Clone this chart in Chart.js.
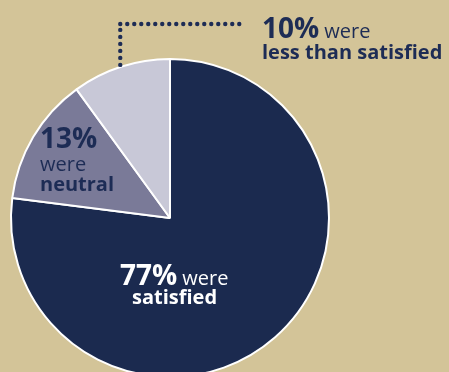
<!DOCTYPE html>
<html>
<head>
<meta charset="utf-8">
<script src="https://cdn.jsdelivr.net/npm/chart.js@4"></script>
<style>
  html, body { margin:0; padding:0; background:#d3c498; overflow:hidden; }
  #wrap { position:relative; width:449px; height:372px; overflow:hidden; }
  #pie { position:absolute; left:0; top:0; }
  .lbl { position:absolute; white-space:nowrap; line-height:1; font-family:"Open Sans", sans-serif; color:#1d2c55; }
  .lbl b { font-weight:700; }
  .lbl span { font-weight:400; }
  .lbl span.tail { font-size:20px; margin-left:5px; }
  .lbl.light { color:#ffffff; }
</style>
</head>
<body>
<div id="wrap">
  <canvas id="pie" width="449" height="380"></canvas>
</div>
<script>
'use strict';
const categories = ['satisfied', 'neutral', 'less than satisfied'];
const shares = [77, 13, 10];
const sliceColors = ['#1b2a4f', '#7a7a98', '#c8c8d7'];

// dotted leader from the middle of the last slice's rim up and across to its label
const leader = {
  id: 'leader',
  afterDatasetsDraw(chart) {
    const arc = chart.getDatasetMeta(0).data[2];
    const mid = (arc.startAngle + arc.endAngle) / 2;
    const x0 = arc.x + Math.cos(mid) * (arc.outerRadius + 2);
    const y0 = arc.y + Math.sin(mid) * (arc.outerRadius + 2);
    const ctx = chart.ctx, gap = 7, topY = 24, endX = 244;
    ctx.save();
    ctx.fillStyle = '#1d2c55';
    const dot = (x, y) => { ctx.beginPath(); ctx.arc(x, y, 2.2, 0, Math.PI * 2); ctx.fill(); };
    for (let y = y0; y > topY; y -= gap) dot(x0, y);
    for (let x = x0; x <= endX; x += gap) dot(x, topY);
    ctx.restore();
  }
};

new Chart(document.getElementById('pie'), {
  type: 'pie',
  data: {
    labels: categories,
    datasets: [{ data: shares, backgroundColor: sliceColors, borderColor: '#ffffff', borderWidth: 2 }]
  },
  options: {
    responsive: false, animation: false,
    layout: { padding: { left: 10, right: 119, top: 58, bottom: 2 } },
    plugins: { legend: { display: false }, tooltip: { enabled: false } }
  },
  plugins: [leader]
});

// text placed by baseline
function label(x, base, size, html, cls) {
  const d = document.createElement('div');
  d.className = 'lbl' + (cls ? ' ' + cls : '');
  d.style.left = x + 'px';
  d.style.top = (base - 0.888 * size) + 'px';
  d.style.fontSize = size + 'px';
  d.innerHTML = html;
  document.getElementById('wrap').appendChild(d);
}
label(262, 38, 28, `<b>${shares[2]}%</b><span class="tail">were</span>`);
label(262, 60, 20, `<b>less than satisfied</b>`);
label(40, 148, 28, `<b>${shares[1]}%</b>`);
label(40, 172, 20, `<span>were</span>`);
label(40, 192, 20, `<b>neutral</b>`);
label(120, 285, 28, `<b>${shares[0]}%</b><span class="tail">were</span>`, 'light');
label(132, 305, 20, `<b>satisfied</b>`, 'light');
</script>
</body>
</html>
